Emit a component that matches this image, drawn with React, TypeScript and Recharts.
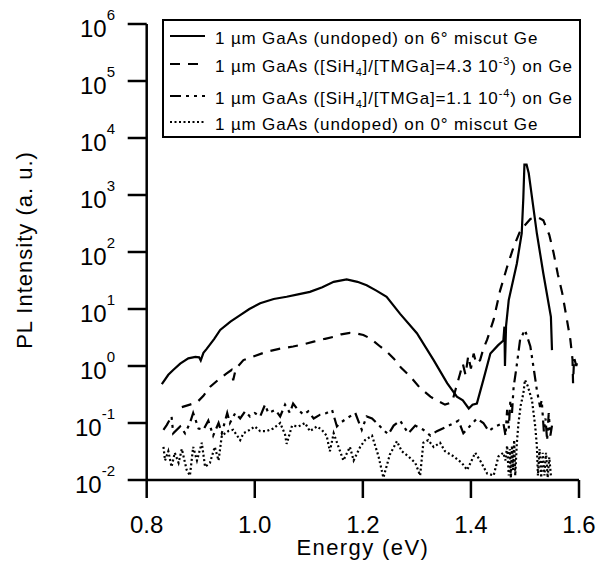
import { LineChart, Line, XAxis, YAxis, Legend, Label } from "recharts";

const FONT = "'Liberation Sans', Arial, Helvetica, sans-serif";

// [energy (eV), PL intensity (a.u.)]
const undoped6: [number, number][] = [
  [0.828, 0.48], [0.84, 0.7], [0.849, 0.85], [0.862, 1.1], [0.877, 1.36], [0.89, 1.45],
  [0.897, 1.42], [0.9, 1.25], [0.905, 1.7], [0.911, 2.0], [0.925, 3.0], [0.936, 4.3],
  [0.955, 6.0], [0.973, 7.8], [0.99, 10], [1.01, 12.6], [1.035, 15], [1.059, 16.4],
  [1.08, 18], [1.102, 20], [1.125, 24], [1.146, 30], [1.17, 33], [1.19, 30], [1.207, 26],
  [1.225, 21], [1.244, 16.4], [1.269, 8.2], [1.3, 3.75], [1.331, 1.27], [1.356, 0.5],
  [1.374, 0.29], [1.385, 0.25], [1.396, 0.18], [1.403, 0.21], [1.411, 0.22], [1.423, 0.57],
  [1.436, 1.66], [1.45, 2.3], [1.46, 2.8], [1.462, 4.9], [1.463, 1.0], [1.465, 5],
  [1.47, 14.4], [1.485, 63], [1.494, 213], [1.497, 900], [1.499, 3400], [1.503, 3400],
  [1.507, 2400], [1.522, 213], [1.534, 42], [1.548, 7.3], [1.55, 1.9],
];

const siHigh: [number, number][] = [
  [0.865, 0.19], [0.88, 0.21], [0.893, 0.23], [0.905, 0.3], [0.917, 0.43], [0.935, 0.6],
  [0.948, 0.74], [0.957, 0.85], [0.96, 0.56], [0.965, 0.9], [0.979, 1.27], [1.0, 1.5],
  [1.022, 1.78], [1.045, 2.0], [1.071, 2.2], [1.09, 2.4], [1.109, 2.67], [1.13, 3.0],
  [1.146, 3.25], [1.16, 3.6], [1.176, 3.8], [1.19, 3.7], [1.201, 3.5], [1.215, 3.0],
  [1.232, 2.2], [1.244, 1.8], [1.257, 1.36], [1.27, 0.95], [1.288, 0.65], [1.305, 0.42],
  [1.325, 0.29], [1.34, 0.24], [1.352, 0.21], [1.365, 0.23], [1.372, 0.4], [1.38, 0.74],
  [1.385, 1.1], [1.39, 0.7], [1.395, 1.5], [1.4, 0.9], [1.405, 1.65], [1.41, 1.1],
  [1.417, 1.27], [1.423, 2.0], [1.43, 2.9], [1.442, 6.5], [1.454, 21], [1.467, 55],
  [1.479, 123], [1.49, 220], [1.497, 275], [1.51, 380], [1.522, 415], [1.534, 360],
  [1.545, 200], [1.553, 96], [1.561, 40], [1.569, 19], [1.577, 7], [1.584, 2.9],
  [1.588, 1.3], [1.589, 0.5], [1.591, 1.4], [1.595, 1.0], [1.598, 1.3],
];

const siLow: [number, number][] = [
  [0.831, 0.076], [0.837, 0.092], [0.846, 0.13], [0.849, 0.066], [0.862, 0.087], [0.871, 0.066],
  [0.88, 0.1], [0.886, 0.15], [0.896, 0.08], [0.905, 0.076], [0.914, 0.11], [0.923, 0.06],
  [0.933, 0.1], [0.939, 0.066], [0.949, 0.15], [0.954, 0.1], [0.964, 0.15], [0.973, 0.12],
  [0.982, 0.16], [0.991, 0.13], [1.0, 0.15], [1.01, 0.13], [1.019, 0.21], [1.025, 0.15],
  [1.038, 0.17], [1.047, 0.13], [1.056, 0.21], [1.065, 0.15], [1.071, 0.22], [1.078, 0.18],
  [1.09, 0.14], [1.099, 0.16], [1.109, 0.12], [1.121, 0.14], [1.133, 0.15], [1.143, 0.17],
  [1.152, 0.087], [1.158, 0.1], [1.17, 0.12], [1.186, 0.15], [1.198, 0.076], [1.207, 0.13],
  [1.217, 0.12], [1.232, 0.087], [1.247, 0.063], [1.257, 0.09], [1.269, 0.11], [1.284, 0.066],
  [1.297, 0.09], [1.312, 0.076], [1.325, 0.06], [1.337, 0.072], [1.356, 0.087], [1.377, 0.11],
  [1.386, 0.066], [1.399, 0.09], [1.411, 0.12], [1.423, 0.1], [1.433, 0.072], [1.445, 0.087],
  [1.46, 0.1], [1.464, 0.06], [1.467, 0.17], [1.47, 0.08], [1.473, 0.25], [1.476, 0.15],
  [1.479, 0.43], [1.484, 0.9], [1.491, 2.9], [1.5, 4.3], [1.51, 2.2], [1.517, 0.8],
  [1.522, 0.38], [1.528, 0.19], [1.531, 0.25], [1.535, 0.07], [1.538, 0.12], [1.541, 0.05],
  [1.544, 0.15], [1.547, 0.06], [1.55, 0.09],
];

const undoped0: [number, number][] = [
  [0.831, 0.038], [0.834, 0.022], [0.84, 0.032], [0.846, 0.017], [0.852, 0.03], [0.859, 0.02],
  [0.865, 0.035], [0.874, 0.015], [0.88, 0.012], [0.886, 0.038], [0.893, 0.022], [0.902, 0.045],
  [0.908, 0.017], [0.917, 0.02], [0.926, 0.038], [0.933, 0.022], [0.939, 0.06], [0.951, 0.072],
  [0.96, 0.076], [0.973, 0.05], [0.979, 0.066], [0.991, 0.076], [1.0, 0.087], [1.01, 0.072],
  [1.022, 0.072], [1.034, 0.08], [1.047, 0.1], [1.056, 0.063], [1.059, 0.043], [1.069, 0.09],
  [1.081, 0.087], [1.093, 0.1], [1.102, 0.072], [1.115, 0.087], [1.124, 0.076], [1.133, 0.06],
  [1.139, 0.032], [1.146, 0.066], [1.155, 0.038], [1.164, 0.022], [1.176, 0.038], [1.183, 0.022],
  [1.195, 0.038], [1.204, 0.05], [1.217, 0.06], [1.229, 0.026], [1.238, 0.011], [1.25, 0.028],
  [1.263, 0.048], [1.272, 0.032], [1.284, 0.026], [1.297, 0.02], [1.306, 0.012], [1.312, 0.045],
  [1.321, 0.05], [1.331, 0.038], [1.343, 0.045], [1.352, 0.032], [1.368, 0.026], [1.383, 0.02],
  [1.393, 0.015], [1.408, 0.03], [1.417, 0.022], [1.43, 0.013], [1.442, 0.012], [1.451, 0.026],
  [1.46, 0.03], [1.464, 0.022], [1.467, 0.04], [1.47, 0.012], [1.472, 0.035], [1.474, 0.011],
  [1.476, 0.04], [1.478, 0.015], [1.48, 0.05], [1.482, 0.012], [1.485, 0.045], [1.488, 0.1],
  [1.492, 0.2], [1.497, 0.33], [1.5, 0.57], [1.505, 0.45], [1.513, 0.25], [1.519, 0.087],
  [1.522, 0.04], [1.524, 0.012], [1.527, 0.035], [1.53, 0.011], [1.533, 0.03], [1.536, 0.012],
  [1.539, 0.03], [1.542, 0.011], [1.545, 0.025], [1.548, 0.012],
];

const xTicks = [0.8, 1.0, 1.2, 1.4, 1.6];
const yTicks = [1e-2, 1e-1, 1, 1e1, 1e2, 1e3, 1e4, 1e5, 1e6];

const DOTTED = "2 2.5";
const DASHED = "10 8";
const DASH_DOT = "11 5 3 5 3 5";

type Seg = [string, "n" | "sub" | "sup"];
const legendRows: { dash: string; label: Seg[] }[] = [
  { dash: "none", label: [["1 µm GaAs (undoped) on 6° miscut Ge", "n"]] },
  {
    dash: DASHED,
    label: [["1 µm GaAs ([SiH", "n"], ["4", "sub"], ["]/[TMGa]=4.3 10", "n"], ["-3", "sup"], [") on Ge", "n"]],
  },
  {
    dash: DASH_DOT,
    label: [["1 µm GaAs ([SiH", "n"], ["4", "sub"], ["]/[TMGa]=1.1 10", "n"], ["-4", "sup"], [") on Ge", "n"]],
  },
  { dash: DOTTED, label: [["1 µm GaAs (undoped) on 0° miscut Ge", "n"]] },
];
const legendLineY = [17, 45, 77, 103];

const toPoints = (arr: [number, number][]) => arr.map(([e, v]) => ({ e, v }));

function PowerTick({ x, y, payload }: any) {
  const exp = Math.round(Math.log10(payload.value));
  return (
    <text x={x} y={y + 13} textAnchor="end" fill="#000" fontFamily={FONT}>
      <tspan fontSize={24}>10</tspan>
      <tspan fontSize={15} dy={-17}>{exp}</tspan>
    </text>
  );
}

function LegendBox() {
  return (
    <svg width={420} height={120} style={{ display: "block" }}>
      <rect x={1} y={1} width={417} height={117} fill="#fff" stroke="#000" strokeWidth={2} />
      {legendRows.map((row, i) => {
        const ly = legendLineY[i];
        let shift = 0;
        return (
          <g key={i}>
            <line
              x1={8}
              x2={43}
              y1={ly}
              y2={ly}
              stroke="#000"
              strokeWidth={2}
              strokeDasharray={row.dash === "none" ? undefined : row.dash}
            />
            <text x={53} y={ly + 7.5} fontFamily={FONT} fontSize={17} letterSpacing={0.85} fill="#000">
              {row.label.map(([t, kind], j) => {
                const target = kind === "sub" ? 4 : kind === "sup" ? -7 : 0;
                const dy = target - shift;
                shift = target;
                return (
                  <tspan key={j} dy={dy} fontSize={kind === "n" ? 17 : 11}>
                    {t}
                  </tspan>
                );
              })}
            </text>
          </g>
        );
      })}
    </svg>
  );
}

function XTitle({ viewBox }: any) {
  const { x, y, width } = viewBox;
  return (
    <text x={x + width / 2} y={y + 75} textAnchor="middle" fontFamily={FONT} fontSize={22} letterSpacing={1.4} fill="#000">
      Energy (eV)
    </text>
  );
}

function YTitle({ viewBox }: any) {
  const { y, height } = viewBox;
  const cx = 32;
  const cy = y + height / 2 - 2;
  return (
    <text
      x={cx}
      y={cy}
      transform={`rotate(-90, ${cx}, ${cy})`}
      textAnchor="middle"
      fontFamily={FONT}
      fontSize={22}
      letterSpacing={1.0}
      fill="#000"
    >
      PL Intensity (a. u.)
    </text>
  );
}

export default function App() {
  const axisStroke = { stroke: "#000", strokeWidth: 2.5 };
  return (
    <div style={{ position: "absolute", left: 0, top: 0, background: "#fff" }}>
      <LineChart width={600} height={578} margin={{ top: 24, right: 21, bottom: 0, left: 0 }}>
        <XAxis
          dataKey="e"
          type="number"
          domain={[0.8, 1.6]}
          ticks={xTicks}
          tickFormatter={(v: number) => v.toFixed(1)}
          tick={{ fill: "#000", fontSize: 24, fontFamily: FONT }}
          tickSize={18}
          tickMargin={18}
          axisLine={axisStroke}
          tickLine={axisStroke}
          height={98}
          allowDataOverflow
        >
          <Label content={<XTitle />} />
        </XAxis>
        <YAxis
          dataKey="v"
          scale="log"
          domain={[0.01, 1e6]}
          ticks={yTicks}
          tick={<PowerTick />}
          tickSize={19}
          tickMargin={12.7}
          axisLine={axisStroke}
          tickLine={axisStroke}
          width={146.7}
          allowDataOverflow
        >
          <Label content={<YTitle />} />
        </YAxis>
        <Legend
          layout="horizontal"
          verticalAlign="middle"
          align="center"
          content={() => <LegendBox />}
          wrapperStyle={{ left: 162, top: 19, width: 420, height: 120 }}
        />
        <Line data={toPoints(undoped0)} dataKey="v" stroke="#000" strokeWidth={2.2} strokeDasharray={DOTTED} dot={false} activeDot={false} isAnimationActive={false} />
        <Line data={toPoints(siLow)} dataKey="v" stroke="#000" strokeWidth={2.2} strokeDasharray={DASH_DOT} dot={false} activeDot={false} isAnimationActive={false} />
        <Line data={toPoints(siHigh)} dataKey="v" stroke="#000" strokeWidth={2.2} strokeDasharray={DASHED} dot={false} activeDot={false} isAnimationActive={false} />
        <Line data={toPoints(undoped6)} dataKey="v" stroke="#000" strokeWidth={2.2} dot={false} activeDot={false} isAnimationActive={false} />
      </LineChart>
    </div>
  );
}
